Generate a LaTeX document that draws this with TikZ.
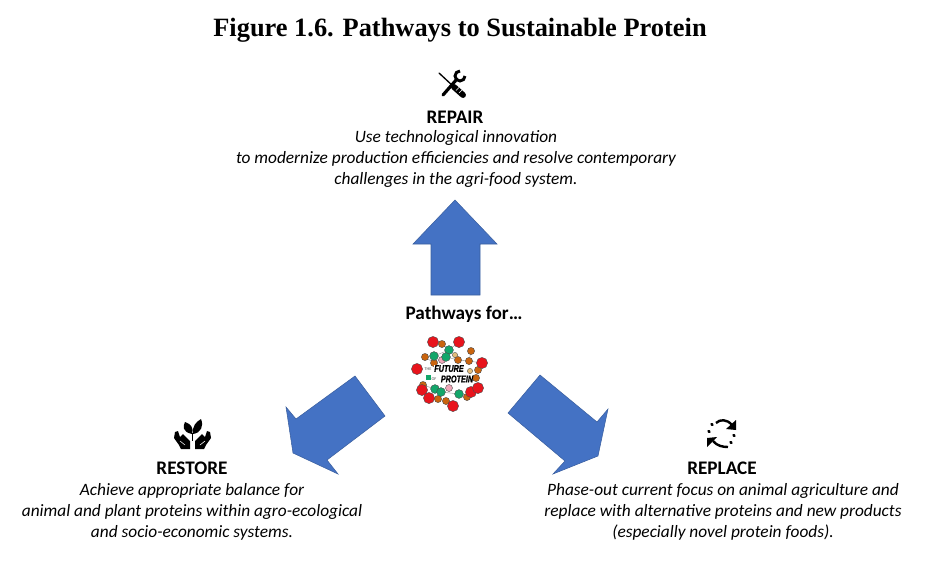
\documentclass[tikz,border=0pt]{standalone}
\usepackage{fontspec}
\setmainfont{Carlito}
\newfontfamily\titlefont{Liberation Serif}
\newfontfamily\logofont[BoldItalicFeatures={FakeBold=1.5}]{Liberation Sans}
\definecolor{arrowblue}{HTML}{4472C4}
\definecolor{arrowline}{HTML}{3A5F9F}
\definecolor{logored}{HTML}{E8141C}
\definecolor{logogreen}{HTML}{12A66A}
\definecolor{logoorange}{HTML}{C9640F}
\definecolor{logopink}{HTML}{EFA6B8}
\definecolor{logotan}{HTML}{E3BE7C}
\newcommand{\logotext}[1]{\scalebox{0.85}[1.15]{#1}}
\tikzset{
  blockarrow/.style={fill=arrowblue, draw=arrowline, line width=0.4pt, line join=miter},
  heading/.style={font=\fontsize{14.4}{17}\selectfont\bfseries, anchor=center},
  blurb/.style={font=\fontsize{13}{15.6}\selectfont\itshape, align=center, anchor=north},
  dot/.style={draw=black!70, line width=0.3pt},
  logoword/.style={font=\fontsize{6.4}{7}\selectfont\logofont\bfseries\itshape, inner sep=0pt, fill=white},
}
\begin{document}
\begin{tikzpicture}[x=0.75pt, y=-0.75pt]
        \useasboundingbox (0,0) rectangle (947,569);

        % Title
        \node[font=\fontsize{19.8}{24}\selectfont\titlefont\bfseries] (title) at (460,30) {Figure 1.6. Pathways to Sustainable Protein};

        % Three block arrows
        \draw[blockarrow] (455,200) -- (497,244) -- (480,244) -- (480,295) -- (431,295) -- (431,244) -- (413,244) -- cycle;
        \draw[blockarrow] (355,376) -- (385,416) -- (327,460) -- (338,474) -- (293,453) -- (286,407) -- (296,419) -- cycle;
        \draw[blockarrow] (540,375) -- (508,413) -- (565,461) -- (553,474) -- (598,456) -- (608,409) -- (597,422) -- cycle;

        % Repair block
        \node[heading] (repair) at (455,117) {REPAIR};
        \node[blurb] (repairtext) at (456,126) {Use technological innovation\\to modernize production efficiencies and resolve contemporary\\challenges in the agri-food system.};

        % Centre label
        \node[heading] (pathways) at (464,314) {Pathways for…};

        % Restore block
        \node[heading] (restore) at (192,468) {RESTORE};
        \node[blurb] (restoretext) at (192,479) {Achieve appropriate balance for\\animal and plant proteins within agro-ecological\\and socio-economic systems.};

        % Replace block
        \node[heading] (replace) at (722,468) {REPLACE};
        \node[blurb] (replacetext) at (723,479) {Phase-out current focus on animal agriculture and\\replace with alternative proteins and new products\\(especially novel protein foods).};

        % Wrench and screwdriver icon
        \draw[line width=2.4pt, line cap=round] (443,95) -- (457,79);
        \draw[line width=2.2pt] (465,76) arc (0:270:5);
        \draw[line width=1pt, line cap=round] (439,73) -- (453,86);
        \draw[line width=4.4pt, line cap=round] (454,87) -- (463,95);
        \draw[white, line width=0.5pt] (456,90.5) -- (459,87.5) (459,93) -- (462,90);

        % Hands and leaves icon
        \fill (192,434) .. controls (182,432) and (183,426) .. (185,422) .. controls (191,424) and (194,428) .. (192,434) -- cycle;
        \fill (193,434) .. controls (192,426) and (196,422) .. (201,419) .. controls (204,426) and (201,433) .. (193,434) -- cycle;
        \draw[line width=0.7pt] (192,433) -- (192,441);
        \fill (175,432) -- (178,431) -- (180,437) -- (183,434) -- (190,441) -- (190,449) -- (181,449) -- (179,445) -- (174,438) -- cycle;
        \fill (210,432) -- (207,431) -- (205,437) -- (202,434) -- (195,441) -- (195,449) -- (204,449) -- (206,445) -- (211,438) -- cycle;
        \draw[white, line width=0.4pt] (180,441) -- (185,445) (205,441) -- (200,445);

        % Circular arrows icon
        \draw[line width=1.8pt] (716,423) .. controls (720,419) and (727,419) .. (732,425);
        \fill (736,420) -- (736,430) -- (726,429) -- cycle;
        \draw[line width=1.8pt] (713,441) .. controls (717,446) and (723,447) .. (728,447);
        \fill (707,438) -- (717,437) -- (707,447) -- cycle;
        \foreach \x/\y in {712/424, 709/431, 734/435, 731/442}
            \draw[line width=2pt, line cap=round] (\x-0.5,\y) -- (\x+0.5,\y+1);

        % Logo: bonds between the dots
        \draw[gray!70, line width=0.4pt] (433,342) -- (442,344) -- (449,350) -- (459,342)
            (434,356) -- (449,350) -- (446,357) -- (458,360) -- (469,361) -- (471,351)
            (425,357) -- (434,363) -- (446,357) (469,361) -- (482,363) -- (478,370) -- (476,378)
            (423,385) -- (435,389) -- (441,392) -- (459,394) -- (467,397) -- (471,392) -- (478,388)
            (422,390) -- (429,398) -- (438,399) -- (446,401) -- (453,406);

        % Logo: dots
        \foreach \x/\y in {442/344, 471/351, 425/357, 458/360, 469/361, 434/363, 478/370, 476/378, 423/385, 438/399, 446/401, 467/397}
            \filldraw[dot, fill=logoorange] (\x,\y) circle (3.6);
        \foreach \x/\y in {442/360, 449/388}
            \filldraw[dot, fill=logopink] (\x,\y) circle (3.5);
        \foreach \x/\y in {455/355, 470/371}
            \filldraw[dot, fill=logotan] (\x,\y) circle (2.6);
        \foreach \x/\y in {449/350, 434/356, 446/357, 435/389, 441/392, 459/394}
            \filldraw[dot, fill=logogreen] (\x,\y) circle (4.4);
        \foreach \x/\y in {433/342, 459/342, 482/363, 417/369, 422/390, 429/398, 453/406, 471/392, 478/388}
            \filldraw[dot, fill=logored] (\x,\y) circle (5.6);
        \fill[logogreen] (425.5,374.5) rectangle (431,380);

        % Logo: wordmark
        \node[gray, font=\fontsize{3.2}{4}\selectfont\bfseries, inner sep=0pt] (logothe) at (428,369) {THE};
        \node[gray, font=\fontsize{3.2}{4}\selectfont\bfseries, inner sep=0pt] (logoof) at (434,379) {OF};
        \node[logoword] (logofuture) at (449,368.5) {\logotext{FUTURE}};
        \node[logoword] (logoprotein) at (457,379) {\logotext{PROTEIN}};
    \end{tikzpicture}
\end{document}
